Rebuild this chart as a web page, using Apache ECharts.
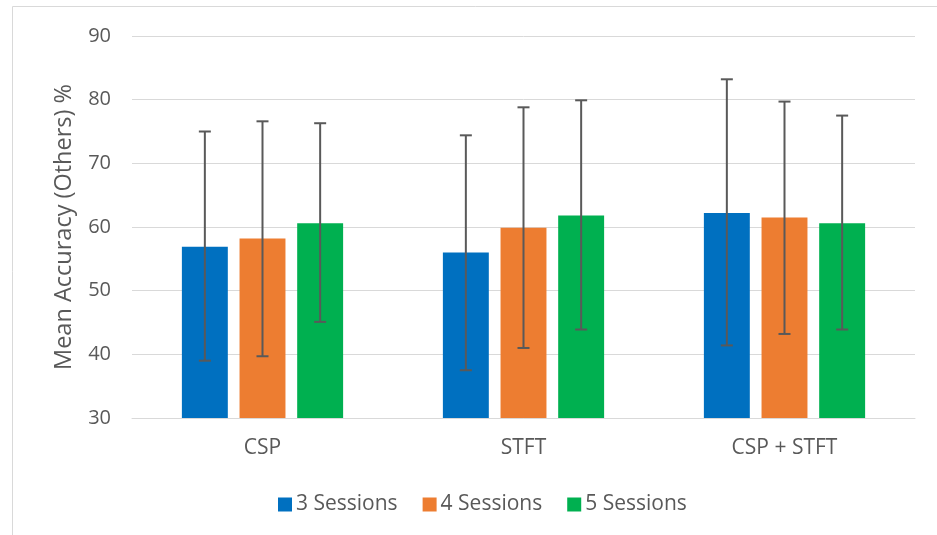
<!DOCTYPE html>
<html><head><meta charset="utf-8">
<script src="https://cdn.jsdelivr.net/npm/echarts@6/dist/echarts.min.js"></script>
<style>html,body{margin:0;padding:0;background:#fff}#c{width:937px;height:535px}</style>
</head><body><div id="c"></div>
<script>
const categories = ['CSP', 'STFT', 'CSP + STFT'];
const seriesNames = ['3 Sessions', '4 Sessions', '5 Sessions'];
const colors = ['#0070C0', '#ED7D31', '#00B050'];
const means3 = [56.9, 56.0, 62.2];
const means4 = [58.2, 59.9, 61.5];
const means5 = [60.6, 61.8, 60.6];
const low3 = [39.0, 37.5, 41.4];
const low4 = [39.7, 41.0, 43.2];
const low5 = [45.1, 43.9, 43.9];
const high3 = [75.0, 74.4, 83.2];
const high4 = [76.6, 78.8, 79.7];
const high5 = [76.3, 79.9, 77.5];
const yTicks = [30, 40, 50, 60, 70, 80, 90];

const means = [means3, means4, means5];
const lows = [low3, low4, low5];
const highs = [high3, high4, high5];
const BAR_FRAC = 0.176, GAP_FRAC = 0.255;
const FONT = '"Open Sans", "Noto Sans", sans-serif';

const chart = echarts.init(document.getElementById('c'));
const series = [];
seriesNames.forEach((name, i) => {
  series.push({
    name, type: 'bar', data: means[i],
    barWidth: (BAR_FRAC * 100) + '%', barGap: (GAP_FRAC * 100) + '%',
    itemStyle: { color: colors[i] }, z: 2
  });
});
seriesNames.forEach((name, i) => {
  series.push({
    type: 'custom', name: name + ' err', z: 5, silent: true,
    data: categories.map((c, k) => [k, lows[i][k], highs[i][k]]),
    renderItem: function (params, api) {
      const k = api.value(0);
      const band = api.size([1, 0])[0];
      const w = band * BAR_FRAC;
      const total = 3 * w + 2 * w * GAP_FRAC;
      const off = -total / 2 + w / 2 + i * (w + w * GAP_FRAC);
      const lo = api.coord([k, api.value(1)]);
      const hi = api.coord([k, api.value(2)]);
      const x = lo[0] + off;
      const cap = 6;
      const st = { stroke: '#595959', lineWidth: 2 };
      return { type: 'group', children: [
        { type: 'line', shape: { x1: x, y1: lo[1], x2: x, y2: hi[1] }, style: st },
        { type: 'line', shape: { x1: x - cap, y1: hi[1], x2: x + cap, y2: hi[1] }, style: st },
        { type: 'line', shape: { x1: x - cap, y1: lo[1], x2: x + cap, y2: lo[1] }, style: st }
      ]};
    }
  });
});

chart.setOption({
  animation: false,
  color: colors,
  graphic: [{ type: 'rect', shape: { x: 12.5, y: 6.5, width: 960, height: 560 },
    style: { fill: 'none', stroke: '#D9D9D9', lineWidth: 1 }, silent: true }],
  grid: { left: 132, right: 22, top: 36, bottom: 117 },
  legend: {
    data: seriesNames, bottom: 15, left: 273, itemWidth: 14, itemHeight: 14,
    itemGap: 25, icon: 'rect',
    textStyle: { color: '#595959', fontSize: 21, fontFamily: FONT, padding: [0, 0, 0, -1] }
  },
  xAxis: {
    type: 'category', data: categories,
    axisLine: { lineStyle: { color: '#D9D9D9', width: 1 } },
    axisTick: { show: false },
    axisLabel: { color: '#595959', fontSize: 21, fontFamily: FONT, margin: 20 }
  },
  yAxis: {
    type: 'value', min: yTicks[0], max: yTicks[yTicks.length - 1], interval: 10,
    name: 'Mean Accuracy (Others) %', nameLocation: 'middle', nameGap: 56,
    nameTextStyle: { color: '#595959', fontSize: 23.5, fontFamily: FONT },
    axisLine: { show: false }, axisTick: { show: false },
    axisLabel: { color: '#595959', fontSize: 20, fontFamily: FONT, margin: 21 },
    splitLine: { lineStyle: { color: '#D9D9D9', width: 1 } }
  },
  series
});
</script></body></html>
